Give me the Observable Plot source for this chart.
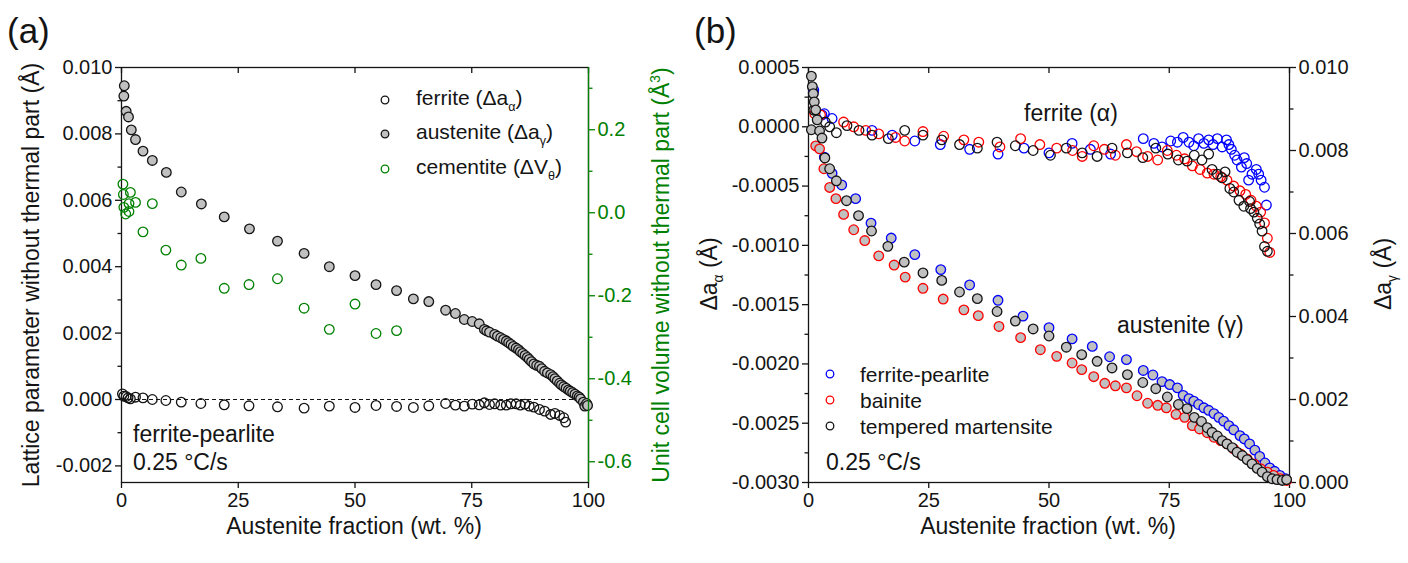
<!DOCTYPE html>
<html><head><meta charset="utf-8">
<script src="https://cdn.jsdelivr.net/npm/d3@7"></script>
<script src="https://cdn.jsdelivr.net/npm/@observablehq/plot@0.6"></script>
<style>
body{margin:0;background:#fff;}
#wrap{position:relative;width:1408px;height:563px;font-family:"Liberation Sans",Arial,sans-serif;color:#141414;overflow:hidden;background:#fff}
.abs{position:absolute;white-space:nowrap;line-height:1;}
.layer{position:absolute;top:0}
.rot{transform:translate(-50%,-50%) rotate(-90deg);}
.cen{transform:translate(-50%,-50%);}
.mid{transform:translateY(-50%);}
.sb{font-size:0.6em;vertical-align:-0.45em;}
.sp{font-size:0.6em;vertical-align:0.7em;}
</style></head>
<body>
<div id="wrap"></div>
<script>
// ---------- data: panel (a) ----------
const xTicks = [0, 25, 50, 75, 100];
const aLeftMajor = [-0.002, 0, 0.002, 0.004, 0.006, 0.008, 0.010];
const aLeftMinor = [-0.001, 0.001, 0.003, 0.005, 0.007, 0.009];
const aRightMajor = [-0.6, -0.4, -0.2, 0, 0.2];
const aRightMinor = [-0.5, -0.3, -0.1, 0.1, 0.3];

const aFerrite = [[0.2,0.00017],[0.5,0.0001],[1.0,0.00009],[1.4,0.00005],[1.9,0.00002],[3.0,0.00007],[4.6,0.00005],[6.6,0.0],[9.5,-0.00003],[12.8,-0.00008],[17.0,-0.00012],[22.0,-0.00016],[27.3,-0.00019],[33.4,-0.00022],[39.1,-0.00026],[44.5,-0.0002],[50.0,-0.00024],[54.5,-0.00018],[58.9,-0.00021],[62.5,-0.00024],[65.8,-0.00019],[69.4,-0.00012],[71.5,-0.00017],[73.4,-0.0002],[75.1,-0.00014],[76.6,-0.00016],[77.7,-0.0001],[78.8,-0.00015],[79.9,-0.00013],[81.2,-0.00017],[82.4,-0.00017],[83.4,-0.00013],[84.5,-0.00013],[85.4,-0.00017],[86.4,-0.00014],[87.3,-0.0002],[88.3,-0.00023],[89.5,-0.0003],[90.6,-0.00035],[91.9,-0.00045],[92.8,-0.00042],[93.8,-0.00048],[94.7,-0.00055],[95.1,-0.00068]];

const aAustenite = [[0.6,0.00945],[0.5,0.00914],[1.0,0.00868],[1.5,0.00851],[2.1,0.00812],[3.0,0.00783],[4.6,0.00748],[6.6,0.0072],[9.6,0.00684],[12.8,0.00625],[17.1,0.00589],[22.0,0.0055],[27.4,0.00514],[33.4,0.00477],[39.1,0.0044],[44.5,0.0040],[50.0,0.00373],[54.5,0.00346],[58.9,0.00328],[62.5,0.00303],[65.8,0.00295],[69.4,0.00269],[71.5,0.00259],[73.4,0.00241],[75.1,0.00235],[76.6,0.00228],[77.7,0.00211],[78.2,0.00207],[78.8,0.00203],[79.9,0.00196],[80.5,0.00191],[81.2,0.00186],[81.8,0.00181],[82.4,0.00176],[82.9,0.00171],[83.4,0.00166],[83.9,0.0016],[84.5,0.00155],[85.0,0.0015],[85.4,0.00144],[85.9,0.00139],[86.4,0.00133],[86.9,0.00127],[87.3,0.00121],[87.8,0.00114],[88.3,0.00107],[88.9,0.00103],[89.5,0.001],[90.0,0.00093],[90.6,0.00085],[91.2,0.0008],[91.9,0.00075],[92.4,0.00069],[92.8,0.00063],[93.3,0.00056],[93.8,0.00049],[94.2,0.00044],[94.7,0.00039],[95.2,0.00034],[95.7,0.00029],[96.1,0.00025],[96.6,0.00021],[97.1,0.00016],[97.6,0.00011],[98.0,0.00007],[98.3,0.00002],[98.9,-0.00008],[99.2,-0.0002],[99.6,-0.00012],[99.8,-0.00018]];

const aCementite = [[0.3,0.069],[1.9,0.049],[0.4,0.044],[3.0,0.025],[6.6,0.022],[1.6,0.022],[0.5,0.013],[1.6,0.003],[0.9,-0.003],[4.6,-0.046],[9.5,-0.09],[12.8,-0.126],[17.0,-0.11],[22.0,-0.182],[27.3,-0.173],[33.4,-0.159],[39.1,-0.23],[44.5,-0.281],[50.0,-0.22],[54.5,-0.291],[58.9,-0.284]];

// ---------- data: panel (b) ----------
const bLeftMajor = [-0.003, -0.0025, -0.002, -0.0015, -0.001, -0.0005, 0, 0.0005];
const bLeftMinor = [-0.00275, -0.00225, -0.00175, -0.00125, -0.00075, -0.00025, 0.00025];
const bRightMajor = [0, 0.002, 0.004, 0.006, 0.008, 0.010];
const bRightMinor = [0.001, 0.003, 0.005, 0.007, 0.009];

const bFerriteFP = [[1.1,0.00031],[2.8,0.0001],[3.3,0.00011],[4.9,0.00007],[13.2,-0.00003],[17.4,-0.00007],[22.1,-0.00012],[27.4,-0.00015],[33.5,-0.00019],[39.4,-0.00023],[44.8,-0.00018],[50.0,-0.00022],[54.8,-0.00014],[58.6,-0.00019],[62.8,-0.00023],[69.6,-0.0001],[71.8,-0.00014],[73.5,-0.00017],[75.3,-0.00012],[76.7,-0.00013],[77.9,-0.00009],[79.1,-0.00013],[80.1,-0.00016],[81.1,-0.0001],[82.2,-0.00014],[83.2,-0.00011],[84.1,-0.00015],[85.0,-0.0001],[86.0,-0.00017],[86.9,-0.00011],[87.4,-0.00015],[87.9,-0.00019],[88.6,-0.00024],[89.1,-0.00028],[90.0,-0.00034],[90.6,-0.00026],[91.1,-0.00031],[91.5,-0.00045],[92.2,-0.0004],[93.1,-0.00036],[93.6,-0.0004],[94.1,-0.00045],[94.8,-0.00051],[95.2,-0.00066]];
const bFerriteB = [[1.3,0.00011],[2.5,0.0001],[7.3,0.00004],[9.4,0.0],[11.9,-0.00003],[14.6,-0.00006],[18.1,-0.00009],[20.0,-0.00012],[23.8,-0.00004],[28.1,-0.00008],[32.3,-0.00011],[35.4,-0.00013],[39.8,-0.00017],[44.1,-0.0001],[48.1,-0.00015],[51.6,-0.00018],[54.9,-0.0002],[56.9,-0.00025],[59.3,-0.00016],[61.5,-0.00019],[63.8,-0.00024],[66.1,-0.00015],[68.2,-0.00021],[70.5,-0.00025],[72.6,-0.00028],[74.6,-0.0002],[76.5,-0.00024],[78.2,-0.00027],[79.8,-0.00033],[81.4,-0.00036],[82.9,-0.00039],[84.3,-0.0004],[85.7,-0.00042],[87.0,-0.00045],[88.4,-0.0005],[89.7,-0.00054],[90.9,-0.00057],[92.0,-0.00062],[93.1,-0.00067],[94.0,-0.00072],[94.8,-0.00081],[95.4,-0.00094],[95.9,-0.00106]];
const bFerriteTM = [[1.1,0.00014],[3.5,0.00004],[4.4,0.0],[5.8,-0.00005],[8.0,0.00001],[10.5,-0.00003],[13.2,-0.00007],[16.6,-0.0001],[20.0,-0.00003],[23.8,-0.00007],[27.7,-0.00011],[31.4,-0.00015],[35.1,-0.00018],[39.2,-0.00013],[43.0,-0.00016],[46.7,-0.0002],[50.3,-0.00024],[53.6,-0.00018],[56.9,-0.00022],[60.0,-0.00025],[63.1,-0.00018],[66.3,-0.00022],[69.5,-0.00026],[72.2,-0.00018],[74.7,-0.00023],[76.9,-0.00028],[78.7,-0.00029],[80.2,-0.00024],[81.8,-0.00028],[83.2,-0.00023],[83.9,-0.00036],[85.0,-0.0004],[86.0,-0.00043],[86.6,-0.00038],[87.6,-0.00052],[88.4,-0.00055],[89.5,-0.00062],[90.5,-0.00067],[91.7,-0.00063],[91.9,-0.00069],[92.6,-0.00072],[93.3,-0.00077],[93.8,-0.00082],[94.3,-0.00088],[94.8,-0.00101],[95.4,-0.00105]];

const bAusteniteFP = [[1.0,0.0094],[3.3,0.00784],[4.9,0.00745],[6.9,0.00717],[9.8,0.00684],[13.0,0.00625],[17.2,0.00589],[22.1,0.00549],[27.5,0.00513],[33.5,0.00476],[39.4,0.00439],[44.6,0.00401],[50.0,0.00373],[54.8,0.00346],[59.0,0.00328],[62.6,0.00303],[66.1,0.00296],[69.6,0.0027],[71.6,0.00259],[73.5,0.00243],[75.1,0.00236],[76.7,0.00228],[77.9,0.0021],[79.1,0.00202],[80.1,0.00196],[81.1,0.00188],[82.2,0.0018],[83.2,0.00174],[84.3,0.00166],[85.3,0.00157],[86.3,0.00148],[87.4,0.00137],[88.4,0.00127],[89.7,0.00113],[90.6,0.00105],[91.7,0.00093],[92.8,0.00078],[93.8,0.00063],[94.9,0.00047],[95.9,0.00035],[96.9,0.00027],[98.0,0.00017],[99.2,0.00009]];
const bAusteniteB = [[1.5,0.00811],[2.3,0.00804],[3.2,0.00756],[4.4,0.00711],[5.7,0.00684],[7.3,0.00646],[9.4,0.00609],[11.7,0.00583],[14.6,0.00546],[17.8,0.00524],[20.1,0.00495],[23.8,0.00468],[28.0,0.00442],[32.3,0.00416],[35.3,0.00402],[39.6,0.00376],[44.1,0.00349],[48.2,0.0032],[51.6,0.00304],[54.8,0.00288],[56.8,0.00272],[59.3,0.00255],[61.6,0.00239],[63.8,0.00233],[66.1,0.00228],[68.3,0.00209],[70.5,0.00191],[72.6,0.00186],[74.4,0.0018],[76.4,0.00164],[78.2,0.00157],[79.8,0.00137],[81.3,0.00129],[82.9,0.0012],[84.3,0.00109],[85.7,0.00101],[87.0,0.00093],[88.4,0.00081],[89.8,0.00069],[91.2,0.00057],[92.6,0.00045],[94.0,0.00033],[95.4,0.00025],[96.7,0.00017],[98.1,0.00009],[99.4,0.00005]];
const bAusteniteTM = [[0.6,0.00979],[0.8,0.00954],[1.0,0.00937],[1.2,0.00917],[1.5,0.00898],[1.8,0.00874],[0.6,0.0085],[2.3,0.00847],[2.8,0.0083],[3.4,0.00782],[4.4,0.00756],[5.8,0.00727],[7.9,0.00679],[10.4,0.00643],[13.1,0.00606],[16.5,0.00569],[19.9,0.00531],[23.8,0.00505],[27.7,0.00487],[31.4,0.00459],[35.1,0.00443],[39.2,0.00412],[43.0,0.00389],[46.7,0.0037],[50.0,0.00353],[53.6,0.00326],[56.8,0.00308],[60.0,0.00292],[63.1,0.00276],[66.3,0.0026],[69.5,0.00241],[72.2,0.00226],[74.6,0.00206],[76.9,0.00188],[78.7,0.00178],[80.2,0.00157],[81.7,0.00147],[82.9,0.00132],[83.9,0.00121],[85.0,0.00112],[86.0,0.00101],[87.0,0.00093],[88.1,0.00084],[89.1,0.00073],[90.2,0.00065],[91.2,0.00055],[92.2,0.00045],[93.3,0.00034],[94.3,0.00025],[95.4,0.00014],[96.4,0.00009],[97.4,0.00007],[98.5,0.00005],[99.4,0.00007]];

// ---------- drawing ----------
const FONT = '"Liberation Sans", Arial, sans-serif';
const INK = "#141414";
const GRAY = "#c0c0c0";
const GREEN = "#008000";
const PH = 415; // plot-area height
const R = 4.8;
const X = d => d[0], Y = d => d[1];
const wrap = document.getElementById("wrap");

function layer(svg, left) {
  svg.classList.add("layer");
  svg.style.left = left + "px";
  wrap.appendChild(svg);
}
function base(ml, mr, ydom, color) {
  return {
    width: 704, height: 563, marginLeft: ml, marginRight: mr, marginTop: 67, marginBottom: 81,
    x: {domain: [0, 100]}, y: {domain: ydom},
    style: {fontFamily: FONT, fontSize: "20px", color: color, background: "transparent", overflow: "visible"}
  };
}

// panel (a) left-axis layer
layer(Plot.plot({
  ...base(121, 116, [-0.0025, 0.010], INK),
  marks: [
    Plot.ruleY([0], {stroke: INK, strokeDasharray: "4,3", strokeWidth: 1}),
    Plot.frame({stroke: INK, strokeWidth: 1.3}),
    Plot.axisX({ticks: xTicks, tickSize: 6, tickPadding: 4, tickFormat: d => String(d), label: null, strokeWidth: 1.3}),
    Plot.ruleX(xTicks, {insetBottom: PH - 6, stroke: INK, strokeWidth: 1.3}),
    Plot.axisY({ticks: aLeftMajor, tickSize: 6, tickPadding: 3, tickFormat: d => d.toFixed(3), label: null, strokeWidth: 1.3}),
    Plot.axisY({ticks: aLeftMinor, tickSize: 3.5, tickFormat: () => "", label: null, strokeWidth: 1.3}),
    Plot.dot(aFerrite, {x: X, y: Y, r: R, fill: "none", stroke: INK, strokeWidth: 1.3}),
    Plot.dot(aAustenite, {x: X, y: Y, r: R, fill: GRAY, stroke: INK, strokeWidth: 1.3})
  ]
}), 0);

// panel (a) right-axis layer (cementite)
layer(Plot.plot({
  ...base(121, 116, [-0.65, 0.35], GREEN),
  x: {domain: [0, 100], axis: null},
  marks: [
    Plot.ruleX([100], {stroke: GREEN, strokeWidth: 1.3}),
    Plot.axisY({anchor: "right", ticks: aRightMajor, tickSize: 6, tickPadding: 3, tickFormat: d => d.toFixed(1), label: null, strokeWidth: 1.3}),
    Plot.axisY({anchor: "right", ticks: aRightMinor, tickSize: 3.5, tickFormat: () => "", label: null, strokeWidth: 1.3}),
    Plot.dot(aCementite, {x: X, y: Y, r: R, fill: "none", stroke: GREEN, strokeWidth: 1.3})
  ]
}), 0);

// panel (b) ferrite layer (left axis)
layer(Plot.plot({
  ...base(104, 119, [-0.003, 0.0005], INK),
  marks: [
    Plot.frame({stroke: INK, strokeWidth: 1.3}),
    Plot.axisX({ticks: xTicks, tickSize: 6, tickPadding: 4, tickFormat: d => String(d), label: null, strokeWidth: 1.3}),
    Plot.ruleX(xTicks, {insetBottom: PH - 6, stroke: INK, strokeWidth: 1.3}),
    Plot.axisY({ticks: bLeftMajor, tickSize: 6, tickPadding: 3, tickFormat: d => d.toFixed(4), label: null, strokeWidth: 1.3}),
    Plot.axisY({ticks: bLeftMinor, tickSize: 3.5, tickFormat: () => "", label: null, strokeWidth: 1.3}),
    Plot.dot(bFerriteFP, {x: X, y: Y, r: R, fill: "none", stroke: "#0000ff", strokeWidth: 1.3}),
    Plot.dot(bFerriteB, {x: X, y: Y, r: R, fill: "none", stroke: "#ff0000", strokeWidth: 1.3}),
    Plot.dot(bFerriteTM, {x: X, y: Y, r: R, fill: "none", stroke: INK, strokeWidth: 1.3})
  ]
}), 704);

// panel (b) austenite layer (right axis)
layer(Plot.plot({
  ...base(104, 119, [0, 0.010], INK),
  x: {domain: [0, 100], axis: null},
  marks: [
    Plot.axisY({anchor: "right", ticks: bRightMajor, tickSize: 6, tickPadding: 3, tickFormat: d => d.toFixed(3), label: null, strokeWidth: 1.3}),
    Plot.axisY({anchor: "right", ticks: bRightMinor, tickSize: 3.5, tickFormat: () => "", label: null, strokeWidth: 1.3}),
    Plot.dot(bAusteniteFP, {x: X, y: Y, r: R, fill: GRAY, stroke: "#0000ff", strokeWidth: 1.3}),
    Plot.dot(bAusteniteB, {x: X, y: Y, r: R, fill: GRAY, stroke: "#ff0000", strokeWidth: 1.3}),
    Plot.dot(bAusteniteTM, {x: X, y: Y, r: R, fill: GRAY, stroke: INK, strokeWidth: 1.3})
  ]
}), 704);

// ---------- text ----------
function txt(html, left, top, cls, size, color) {
  const d = document.createElement("div");
  d.className = "abs " + cls;
  d.style.left = left + "px";
  d.style.top = top + "px";
  d.style.fontSize = size + "px";
  if (color) d.style.color = color;
  d.innerHTML = html;
  wrap.appendChild(d);
}
function sym(cx, cy, fill, stroke) {
  const s = document.createElementNS("http://www.w3.org/2000/svg", "svg");
  s.setAttribute("width", 12); s.setAttribute("height", 12);
  s.style.position = "absolute"; s.style.left = (cx - 6) + "px"; s.style.top = (cy - 6) + "px";
  s.innerHTML = `<circle cx="6" cy="6" r="3.8" fill="${fill}" stroke="${stroke}" stroke-width="1.3"/>`;
  wrap.appendChild(s);
}

txt("(a)", 7, 30, "mid", 35);
txt("(b)", 694, 30, "mid", 35);

txt("Lattice parameter without thermal part (Å)", 31, 275, "rot", 23);
txt('Unit cell volume without thermal part (Å<span class="sp">3</span>)', 661, 275, "rot", 23, GREEN);
txt("Austenite fraction (wt. %)", 354, 526, "cen", 23);

txt('Δa<span class="sb">α</span> (Å)', 712, 274, "rot", 23);
txt('Δa<span class="sb">γ</span> (Å)', 1386, 274, "rot", 23);
txt("Austenite fraction (wt. %)", 1048, 526, "cen", 23);

// legend (a)
sym(385, 100, "none", INK);
sym(385, 134, GRAY, INK);
sym(385, 169, "none", GREEN);
txt('ferrite (Δa<span class="sb">α</span>)', 416, 100, "mid", 21);
txt('austenite (Δa<span class="sb">γ</span>)', 416, 134, "mid", 21);
txt('cementite (ΔV<span class="sb">θ</span>)', 416, 169, "mid", 21);
txt("ferrite-pearlite", 133, 434, "mid", 23);
txt("0.25 °C/s", 133, 462, "mid", 23);

// legend (b)
sym(830, 374, "none", "#0000ff");
sym(830, 400, "none", "#ff0000");
sym(830, 426, "none", INK);
txt("ferrite-pearlite", 860, 374, "mid", 21);
txt("bainite", 860, 400, "mid", 21);
txt("tempered martensite", 860, 426, "mid", 21);
txt("0.25 °C/s", 826, 462, "mid", 23);
txt("ferrite (α)", 1024, 113, "mid", 23);
txt("austenite (γ)", 1117, 325, "mid", 23);
</script>
</body></html>
